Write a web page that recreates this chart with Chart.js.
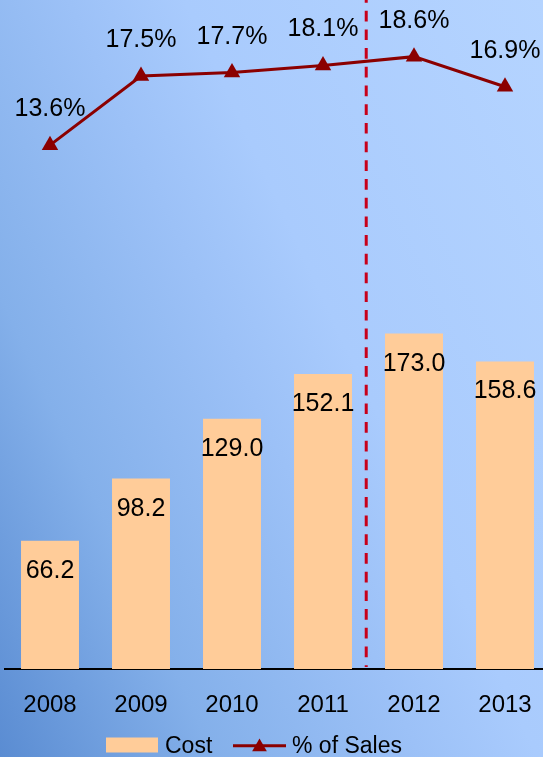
<!DOCTYPE html>
<html><head><meta charset="utf-8">
<script src="https://cdn.jsdelivr.net/npm/chart.js@4.4.1/dist/chart.umd.min.js"></script>
<style>
html,body{margin:0;padding:0;overflow:hidden;width:543px;height:757px;}
#wrap{position:relative;width:543px;height:757px;overflow:hidden;
background:linear-gradient(65deg,#5A8CD2 0%,#84B0EA 24%,#9CC1F7 47%,#A9CBFD 60%,#B5D4FF 100%);}
canvas{position:absolute;left:0;top:0;}
</style></head>
<body><div id="wrap"><canvas id="c" width="551" height="757"></canvas></div>
<script>
const categories = ['2008', '2009', '2010', '2011', '2012', '2013'];
const costValues = [66.2, 98.2, 129.0, 152.1, 173.0, 158.6];
const salesPctValues = [13.6, 17.5, 17.7, 18.1, 18.6, 16.9];
const seriesNames = ['Cost', '% of Sales'];
const dividerAfterIndex = 3;

const FONT = '"Liberation Sans", Arial, Helvetica, sans-serif';
const barColor = '#FFCC99';
const lineColor = '#8B0000';

const valueLabels = {
  id: 'valueLabels',
  afterDatasetsDraw(chart) {
    const ctx = chart.ctx;
    ctx.save();
    ctx.fillStyle = '#000';
    ctx.textAlign = 'center';
    ctx.textBaseline = 'alphabetic';
    ctx.font = '25px ' + FONT;
    chart.getDatasetMeta(0).data.forEach((el, i) => {
      ctx.fillText(costValues[i].toFixed(1), el.x, el.y + 37);
    });
    chart.getDatasetMeta(1).data.forEach((el, i) => {
      ctx.fillText(salesPctValues[i].toFixed(1) + '%', el.x, el.y - 29);
    });
    ctx.restore();
  }
};

const divider = {
  id: 'divider',
  beforeDatasetsDraw(chart) {
    const {ctx, chartArea, scales} = chart;
    const px = scales.x.getPixelForValue(dividerAfterIndex + 0.475);
    ctx.save();
    ctx.strokeStyle = '#C8001A';
    ctx.lineWidth = 3;
    ctx.setLineDash([10.7, 8]);
    ctx.lineDashOffset = 8;
    ctx.beginPath();
    ctx.moveTo(px, chartArea.top);
    ctx.lineTo(px, chartArea.bottom - 2);
    ctx.stroke();
    ctx.restore();
  }
};

const bottomLegend = {
  id: 'bottomLegend',
  afterDraw(chart) {
    const ctx = chart.ctx;
    ctx.save();
    ctx.fillStyle = barColor;
    ctx.fillRect(106, 737.5, 52, 15);
    ctx.fillStyle = '#000';
    ctx.font = '23px ' + FONT;
    ctx.textAlign = 'left';
    ctx.textBaseline = 'alphabetic';
    ctx.fillText(seriesNames[0], 165, 753.2);
    ctx.strokeStyle = lineColor;
    ctx.lineWidth = 3;
    ctx.beginPath();
    ctx.moveTo(233, 745.7);
    ctx.lineTo(286, 745.7);
    ctx.stroke();
    const r = 8.5, cx = 259.5, cy = 747;
    ctx.fillStyle = lineColor;
    ctx.beginPath();
    for (let k = 0; k < 3; k++) {
      const a = k * 2 * Math.PI / 3;
      const x = cx + Math.sin(a) * r, y = cy - Math.cos(a) * r;
      if (k === 0) ctx.moveTo(x, y); else ctx.lineTo(x, y);
    }
    ctx.closePath();
    ctx.fill();
    ctx.fillStyle = '#000';
    ctx.fillText(seriesNames[1], 292, 753.2);
    ctx.restore();
  }
};

Chart.defaults.font.family = FONT;

new Chart(document.getElementById('c'), {
  data: {
    labels: categories,
    datasets: [
      {
        type: 'bar',
        label: seriesNames[0],
        data: costValues,
        backgroundColor: barColor,
        borderWidth: 0,
        yAxisID: 'y',
        barPercentage: 0.637,
        categoryPercentage: 1.0
      },
      {
        type: 'line',
        label: seriesNames[1],
        data: salesPctValues,
        borderColor: lineColor,
        backgroundColor: lineColor,
        borderWidth: 3,
        tension: 0,
        pointStyle: 'triangle',
        pointRadius: 9.5,
        pointBorderWidth: 0,
        pointBackgroundColor: lineColor,
        yAxisID: 'y1',
        clip: false
      }
    ]
  },
  options: {
    responsive: false,
    animation: false,
    devicePixelRatio: 1,
    layout: { autoPadding: false, padding: { left: 4.5, right: 0.5, top: 0, bottom: 16 } },
    plugins: { legend: { display: false }, tooltip: { enabled: false } },
    scales: {
      x: {
        grid: { display: false, drawTicks: false },
        border: { display: true, color: '#000', width: 2 },
        ticks: { color: '#000', font: { size: 24, family: FONT, lineHeight: 3 }, padding: 0, maxRotation: 0, autoSkip: false }
      },
      y: { display: false, min: 0, max: 345, ticks: { display: false } },
      y1: { display: false, position: 'right', min: -16, max: 21.8, ticks: { display: false } }
    }
  },
  plugins: [divider, valueLabels, bottomLegend]
});
</script>
</body></html>
